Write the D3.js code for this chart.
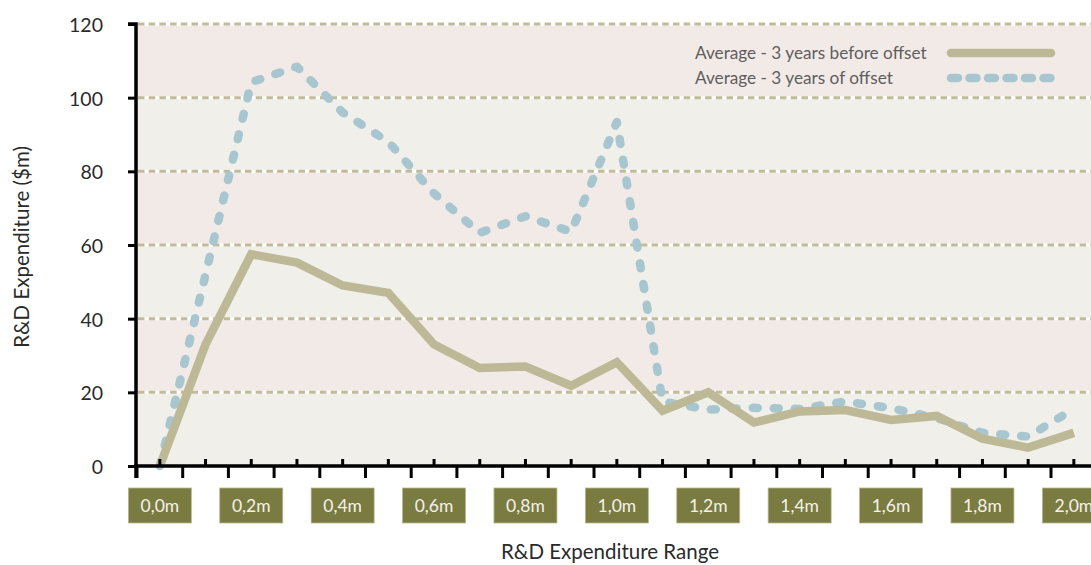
<!DOCTYPE html>
<html>
<head>
<meta charset="utf-8">
<script src="https://cdn.jsdelivr.net/npm/d3@7/dist/d3.min.js"></script>
<style>
  html, body { margin: 0; padding: 0; background: #ffffff; }
  svg { display: block; font-family: Lato, "Open Sans", sans-serif; }
</style>
</head>
<body>
<svg id="chart" width="1091" height="565"></svg>
<script>
// ---- data ----
const categories = ["0,0m","0,1m","0,2m","0,3m","0,4m","0,5m","0,6m","0,7m","0,8m","0,9m","1,0m",
                    "1,1m","1,2m","1,3m","1,4m","1,5m","1,6m","1,7m","1,8m","1,9m","2,0m"];
const labelledCategories = ["0,0m","0,2m","0,4m","0,6m","0,8m","1,0m","1,2m","1,4m","1,6m","1,8m","2,0m"];
const beforeOffset = [0, 33, 57.5, 55.2, 49, 47, 33, 26.6, 27, 21.8, 28.2, 15, 20, 11.8, 14.8, 15.2, 12.5, 13.6, 7.4, 5, 9];
const ofOffset     = [0, 52, 104.2, 108.4, 96, 88, 74, 63.3, 67.8, 63.6, 93.4, 17.5, 15.3, 15.8, 15.5, 17.5, 15.7, 13, 9, 8, 15.5];
const yTicks = [0, 20, 40, 60, 80, 100, 120];
const seriesNames = ["Average - 3 years before offset", "Average - 3 years of offset"];

// ---- layout ----
const svg = d3.select("#chart");
const W = 1091, H = 565;
const mLeft = 136, mTop = 24, mBottom = 466;
const step = 45.7;

const x = d3.scaleBand().domain(categories).range([137, 137 + step * categories.length]).padding(0);
const y = d3.scaleLinear().domain([0, 120]).range([mBottom, mTop]);
const bw = x.bandwidth();
const cx = c => x(c) + bw / 2;

const colPink = "#f2eae7", colGray = "#f0efea";
const colGrid = "#c0bb98";
const colSolid = "#bdb895";
const colDash = "#a8c6d0";
const colBox = "#7a7b40";

// background bands
const bands = d3.range(yTicks.length - 1);
svg.append("g").selectAll("rect").data(bands).join("rect")
  .attr("x", mLeft).attr("width", W - mLeft)
  .attr("y", i => y(yTicks[i + 1]))
  .attr("height", i => y(yTicks[i]) - y(yTicks[i + 1]))
  .attr("fill", i => i % 2 === 0 ? colGray : colPink);

// gridlines
const grid = svg.append("g");
const gridVals = yTicks.filter(v => v > 0);
grid.selectAll("line.w").data(gridVals).join("line").attr("class", "w")
  .attr("x1", mLeft).attr("x2", W).attr("y1", d => y(d)).attr("y2", d => y(d))
  .attr("stroke", "#ffffff").attr("stroke-width", 3);
grid.selectAll("line.d").data(gridVals).join("line").attr("class", "d")
  .attr("x1", mLeft + 2).attr("x2", W).attr("y1", d => y(d)).attr("y2", d => y(d))
  .attr("stroke", colGrid).attr("stroke-width", 3).attr("stroke-dasharray", "6.5,4.2");

// lines
const line = d3.line().x((d, i) => cx(categories[i])).y(d => y(d));
svg.append("path").datum(ofOffset).attr("d", line)
  .attr("fill", "none").attr("stroke", colDash).attr("stroke-width", 8.5)
  .attr("stroke-linecap", "round").attr("stroke-linejoin", "round")
  .attr("stroke-dasharray", "5,16");
svg.append("path").datum(beforeOffset).attr("d", line)
  .attr("fill", "none").attr("stroke", colSolid).attr("stroke-width", 8.5)
  .attr("stroke-linejoin", "miter");

// y axis
const yAxis = d3.axisLeft(y).tickValues(yTicks).tickSize(8).tickPadding(25).tickFormat(d3.format("d"));
const gy = svg.append("g").attr("transform", `translate(${mLeft},0)`).call(yAxis);
gy.select(".domain").attr("stroke", "#000").attr("stroke-width", 3.5)
  .attr("d", `M-8,${mTop}H0V${mBottom + 12}`);
gy.selectAll(".tick line").attr("stroke", "#000").attr("stroke-width", 3);
gy.selectAll(".tick text").attr("font-size", 19.5).attr("fill", "#2a2a2a")
  .attr("font-family", "Lato, sans-serif").attr("dy", "0.38em");

// x axis
const gx = svg.append("g");
gx.append("line").attr("x1", mLeft - 2).attr("x2", W).attr("y1", mBottom).attr("y2", mBottom)
  .attr("stroke", "#000").attr("stroke-width", 3.5);
const edges = categories.map(c => x(c)).concat([x(categories[categories.length - 1]) + bw]);
gx.selectAll("line.dn").data(edges).join("line").attr("class", "dn")
  .attr("x1", d => d).attr("x2", d => d).attr("y1", mBottom).attr("y2", mBottom + 12)
  .attr("stroke", "#000").attr("stroke-width", 3);
gx.selectAll("line.up").data(categories).join("line").attr("class", "up")
  .attr("x1", d => cx(d)).attr("x2", d => cx(d)).attr("y1", mBottom).attr("y2", mBottom - 7)
  .attr("stroke", "#000").attr("stroke-width", 3);

// label boxes
const boxes = svg.append("g").selectAll("g").data(labelledCategories).join("g")
  .attr("transform", d => `translate(${cx(d)},505.5)`);
boxes.append("rect").attr("x", -31.5).attr("y", -17.5).attr("width", 63).attr("height", 35)
  .attr("fill", colBox).attr("stroke", "#b9b98f").attr("stroke-width", 0.8);
boxes.append("text").text(d => d).attr("text-anchor", "middle").attr("dy", "0.36em")
  .attr("fill", "#f4f2ea").attr("font-size", 17.5);

// axis titles
svg.append("text").attr("x", 610).attr("y", 559).attr("text-anchor", "middle")
  .attr("font-size", 20.5).attr("fill", "#2a2a2a").text("R&D Expenditure Range");
svg.append("text").attr("transform", "translate(29,247) rotate(-90)").attr("text-anchor", "middle")
  .attr("font-size", 20.5).attr("fill", "#2a2a2a").text("R&D Expenditure ($m)");

// legend
const legend = svg.append("g");
const legY = [53, 78];
legend.selectAll("text").data(seriesNames).join("text")
  .attr("x", 695).attr("y", (d, i) => legY[i] + 5.5)
  .attr("font-size", 17.2).attr("fill", "#5e5e5e").text(d => d);
legend.append("line").attr("x1", 951).attr("x2", 1051).attr("y1", legY[0]).attr("y2", legY[0])
  .attr("stroke", colSolid).attr("stroke-width", 8.5).attr("stroke-linecap", "round");
legend.append("line").attr("x1", 951).attr("x2", 1051).attr("y1", legY[1]).attr("y2", legY[1])
  .attr("stroke", colDash).attr("stroke-width", 8.5).attr("stroke-linecap", "round")
  .attr("stroke-dasharray", "7,11.5");
</script>
</body>
</html>
